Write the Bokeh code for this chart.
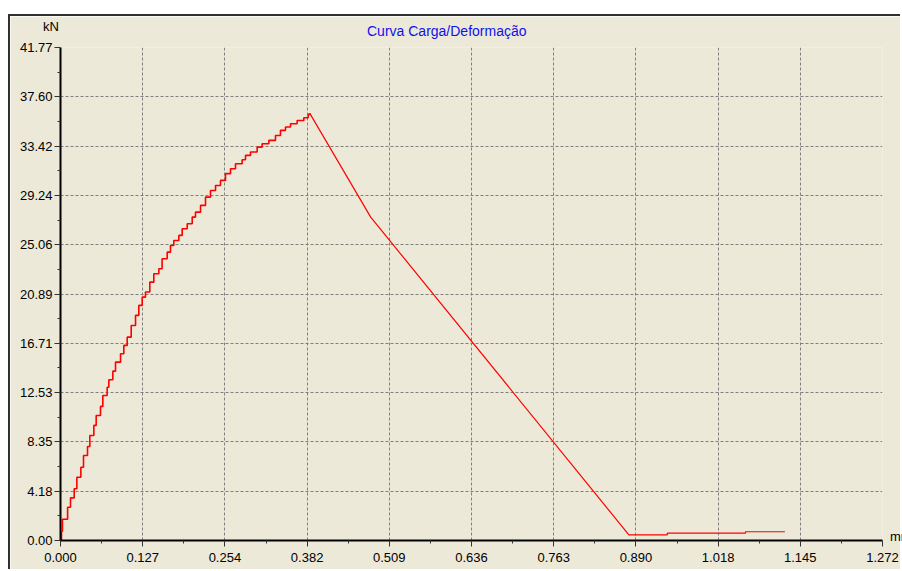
from bokeh.plotting import figure
from bokeh.models import Range1d, FixedTicker, Div
from bokeh.layouts import column
from bokeh.embed import file_html
from bokeh.resources import INLINE

# ---- data ----
rise_x = [0.0015, 0.0030, 0.0110, 0.0155, 0.0212, 0.0253, 0.0315, 0.0356, 0.0418, 0.0454,
          0.0516, 0.0552, 0.0619, 0.0655, 0.0722, 0.0748, 0.0810, 0.0851, 0.0929, 0.0980,
          0.1032, 0.1094, 0.1161, 0.1212, 0.1264, 0.1315, 0.1382, 0.1444, 0.1522, 0.1572,
          0.1651, 0.1702, 0.1753, 0.1831, 0.1883, 0.1961, 0.2038, 0.2089, 0.2167, 0.2244,
          0.2321, 0.2399, 0.2476, 0.2553, 0.2631, 0.2708, 0.2811, 0.2863, 0.2940, 0.3043,
          0.3120, 0.3224, 0.3327, 0.3404, 0.3482, 0.3559, 0.3662, 0.3765, 0.3833, 0.3858]
rise_y = [0.79, 1.80, 2.82, 3.61, 4.38, 5.36, 6.21, 7.20, 7.97, 8.90,
          9.75, 10.59, 11.36, 12.29, 12.99, 13.62, 14.35, 15.11, 15.82, 16.53,
          17.23, 18.22, 19.07, 19.92, 20.62, 21.05, 21.89, 22.60, 23.03, 23.87,
          24.43, 25.00, 25.42, 25.85, 26.41, 26.84, 27.40, 27.82, 28.39, 29.09,
          29.66, 30.08, 30.51, 31.08, 31.50, 31.92, 32.26, 32.63, 32.91, 33.33,
          33.62, 33.90, 34.32, 34.75, 35.03, 35.31, 35.59, 35.82, 36.10, 36.19]
fall_x = [0.3858, 0.480, 0.8795, 0.939, 0.939, 1.060, 1.060, 1.121]
fall_y = [36.19, 27.40, 0.48, 0.48, 0.62, 0.62, 0.74, 0.74]

x_ticks = [0.0, 0.1272, 0.2544, 0.3816, 0.5088, 0.636, 0.7632, 0.8904, 1.0176, 1.1448, 1.272]
x_tick_labels = ["0.000", "0.127", "0.254", "0.382", "0.509", "0.636", "0.763", "0.890", "1.018", "1.145", "1.272"]
y_ticks = [0.0, 4.177, 8.354, 12.531, 16.708, 20.885, 25.062, 29.239, 33.416, 37.593, 41.77]
y_tick_labels = ["0.00", "4.18", "8.35", "12.53", "16.71", "20.89", "25.06", "29.24", "33.42", "37.60", "41.77"]

title_text = "Curva Carga/Deformação"
y_unit = "kN"
x_unit = "mm"

BG = "#ECE9D8"
FONT = "Liberation Sans"

p = figure(width=892, height=555, output_backend="svg", toolbar_location=None,
           x_range=Range1d(0, 1.272), y_range=Range1d(0, 41.77),
           min_border_left=50, min_border_right=20, min_border_top=31, min_border_bottom=31,
           background_fill_color=BG, border_fill_color=BG, outline_line_color=None,
           styles={"margin-left": "8px", "margin-top": "14px",
                   "border-left": "2px solid #303030", "border-top": "2px solid #303030"})

x_minor = [(a + b) / 2 for a, b in zip(x_ticks[:-1], x_ticks[1:])]
y_minor = [(a + b) / 2 for a, b in zip(y_ticks[:-1], y_ticks[1:])]
p.xaxis.ticker = FixedTicker(ticks=x_ticks, minor_ticks=x_minor)
p.yaxis.ticker = FixedTicker(ticks=y_ticks, minor_ticks=y_minor)
p.xaxis.major_label_overrides = {t: l for t, l in zip(x_ticks, x_tick_labels)}
p.yaxis.major_label_overrides = {t: l for t, l in zip(y_ticks, y_tick_labels)}

for ax in (p.xaxis, p.yaxis):
    ax.axis_line_width = 2
    ax.axis_line_color = "black"
    ax.major_tick_in = 0
    ax.major_tick_out = 6
    ax.minor_tick_in = 0
    ax.minor_tick_out = 3
    ax.major_tick_line_color = "#333333"
    ax.minor_tick_line_color = "#333333"
    ax.major_label_text_font = FONT
    ax.major_label_text_font_size = "13px"
    ax.major_label_text_color = "black"
p.yaxis.major_label_standoff = 2
p.xaxis.major_label_standoff = 6

p.grid.grid_line_color = "#808080"
p.grid.grid_line_dash = "3 2"
p.grid.grid_line_width = 1

p.step(rise_x, rise_y, mode="after", line_color="#FF0000", line_width=1.6)
p.line(fall_x, fall_y, line_color="#FF0000", line_width=1.2)
p.line([0.0015, 0.0015], [0.0, 0.79], line_color="#FF0000", line_width=1.6)

def overlay_text(text, left, top, size, color, width=None):
    st = {"position": "absolute", "left": f"{left}px", "top": f"{top}px",
          "font-family": FONT, "font-size": size, "color": color,
          "white-space": "nowrap", "z-index": "10"}
    if width is not None:
        st["width"] = f"{width}px"
        st["overflow"] = "hidden"
    return Div(text=text, styles=st)

title_div = overlay_text(title_text, 362, 16, "14px", "#1010F0")
kn_div = overlay_text(y_unit, 38, 13, "13px", "black")
mm_div = overlay_text(x_unit, 885, 523, "13px", "black", width=17)

layout = column(title_div, kn_div, mm_div, p)
open("out.html", "w").write(file_html(layout, INLINE))
